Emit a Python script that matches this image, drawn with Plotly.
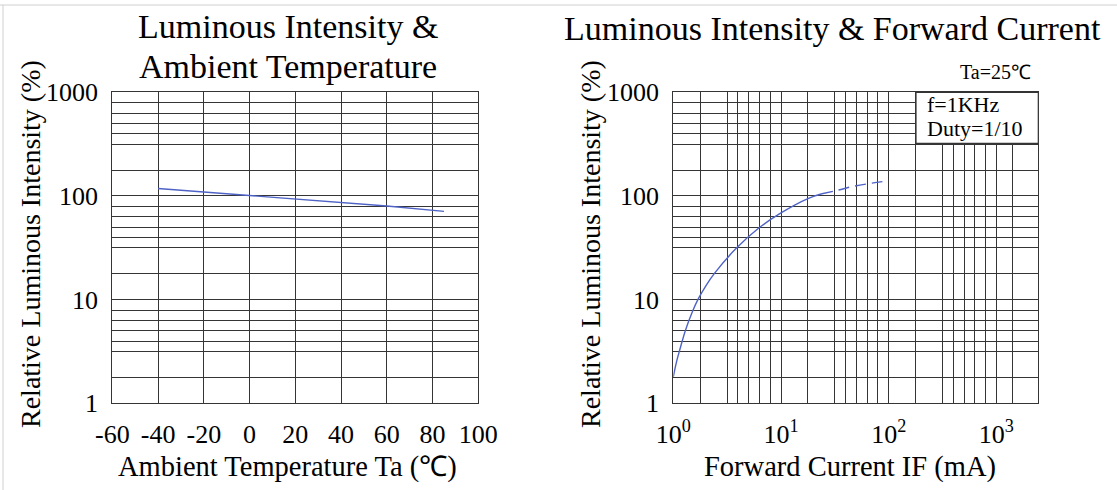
import plotly.graph_objects as go

# ---------------- data ----------------
temp_c = [-40, -20, 0, 20, 40, 60, 85]
rel_int_temp = [118, 109, 100, 93, 86, 80, 71]

if_solid_ma = [1, 1.07, 1.15, 1.3, 1.5, 1.7, 2, 2.4, 3.8, 6.3, 10, 18, 24]
rel_int_solid = [1.8, 2.5, 3.3, 5.1, 7.6, 10.1, 13.5, 17.8, 30.9, 49.6, 68.7, 95, 105]
if_dash_ma = [24, 34, 48, 70, 100]
rel_int_dash = [105, 114, 124.5, 133, 140]

y_tick_vals = [1, 10, 100, 1000]
y_tick_text = ["1", "10", "100", "1000"]
t_tick_vals = [-60, -40, -20, 0, 20, 40, 60, 80, 100]
t_tick_text = ["-60", "-40", "-20", "0", "20", "40", "60", "80", "100"]
if_tick_vals = [1, 10, 100, 1000]
if_tick_text = ["10<sup>0</sup>", "10<sup>1</sup>", "10<sup>2</sup>", "10<sup>3</sup>"]

# ---------------- style ----------------
W, H = 1117, 490
FONT = "Liberation Serif, Times New Roman, serif"
GRID = "#353535"
BLUE = "#4f63c6"
grid_fracs = [0.25, 0.5, 0.6, 0.7, 0.8, 0.9]

def px(x):
    return x / W

def py(y):
    return 1 - y / H

y_minor = [10 ** (d + f) for d in range(3) for f in grid_fracs]
x2_minor = [10 ** (d + f) for d in range(3) for f in grid_fracs] + [10, 100, 1000, 10 ** 3.15]

fig = go.Figure()
fig.add_trace(go.Scatter(x=temp_c, y=rel_int_temp, mode="lines",
                         line=dict(color=BLUE, width=1.4), xaxis="x", yaxis="y",
                         showlegend=False))
fig.add_trace(go.Scatter(x=if_solid_ma, y=rel_int_solid, mode="lines",
                         line=dict(color=BLUE, width=1.4, shape="spline", smoothing=1),
                         xaxis="x2", yaxis="y2", showlegend=False))
fig.add_trace(go.Scatter(x=if_dash_ma, y=rel_int_dash, mode="lines",
                         line=dict(color=BLUE, width=1.4, shape="spline", dash="11px,6px"),
                         xaxis="x2", yaxis="y2", showlegend=False))

dom_y = [py(403.3), py(92.3)]
axis_common = dict(showline=True, mirror=True, linecolor=GRID, linewidth=1.2,
                   ticks="", gridcolor=GRID, gridwidth=1.1, zeroline=False,
                   automargin=False,
                   tickfont=dict(family=FONT, size=26, color="black"))

fig.update_layout(
    width=W, height=H,
    margin=dict(l=0, r=0, t=0, b=0, pad=0),
    paper_bgcolor="white", plot_bgcolor="white",
    xaxis=dict(axis_common, domain=[px(112.3), px(478.3)], range=[-60, 100],
               tickmode="array", tickvals=t_tick_vals, ticktext=t_tick_text,
               anchor="y", ticklabelstandoff=7),
    yaxis=dict(axis_common, domain=dom_y, type="log", range=[0, 3],
               tickmode="array", tickvals=y_tick_vals, ticktext=y_tick_text,
               anchor="x", ticklabelstandoff=8,
               minor=dict(tickmode="array", tickvals=y_minor, showgrid=True,
                          gridcolor=GRID, gridwidth=1.1, ticks="")),
    xaxis2=dict(axis_common, domain=[px(673.3), px(1038.3)], type="log",
                range=[0, 3.389], tickmode="array", tickvals=if_tick_vals,
                ticktext=if_tick_text, anchor="y2", showgrid=False,
                ticklabelstandoff=7,
                minor=dict(tickmode="array", tickvals=x2_minor, showgrid=True,
                           gridcolor=GRID, gridwidth=1.1, ticks="")),
    yaxis2=dict(axis_common, domain=dom_y, type="log", range=[0, 3],
                tickmode="array", tickvals=y_tick_vals, ticktext=y_tick_text,
                anchor="x2", ticklabelstandoff=8,
                minor=dict(tickmode="array", tickvals=y_minor, showgrid=True,
                           gridcolor=GRID, gridwidth=1.1, ticks="")),
)

def ann(text, x, y, size, angle=0, xanchor="center"):
    fig.add_annotation(text=text, x=px(x), y=py(y), xref="paper", yref="paper",
                       showarrow=False, textangle=angle, xanchor=xanchor,
                       yanchor="middle", font=dict(family=FONT, size=size, color="black"))

ann("Luminous Intensity &amp;", 288, 27, 34)
ann("Ambient Temperature", 288, 66, 34)
ann("Luminous Intensity &amp; Forward Current", 832, 28, 34)
ann("Relative Luminous Intensity (%)", 30, 244, 28, angle=-90)
ann("Relative Luminous Intensity (%)", 590, 244, 28, angle=-90)
ann("Ambient Temperature Ta (℃)", 287, 467, 28.5)
ann("Forward Current IF (mA)", 850, 467, 28.5)
ann("Ta=25℃", 995, 72, 20)

# info box in the right plot
fig.add_shape(type="rect", xref="x2 domain", yref="y2 domain",
              x0=(916 - 673.3) / 365, x1=1, y0=(403.3 - 143.3) / 311, y1=1,
              fillcolor="white", line=dict(color=GRID, width=1.2), layer="above")
ann("f=1KHz", 925, 104, 22, xanchor="left")
ann("Duty=1/10", 925, 128, 22, xanchor="left")

# thin page border (top and left)
fig.add_shape(type="line", xref="paper", yref="paper", x0=0, x1=1, y0=py(5), y1=py(5),
              line=dict(color="#d0d0d0", width=1))
fig.add_shape(type="line", xref="paper", yref="paper", x0=px(3), x1=px(3), y0=0, y1=py(5),
              line=dict(color="#d0d0d0", width=1))

fig.write_html("out.html", config={"displayModeBar": False},
               post_script="document.body.style.margin='0';document.body.style.overflow='hidden';")
